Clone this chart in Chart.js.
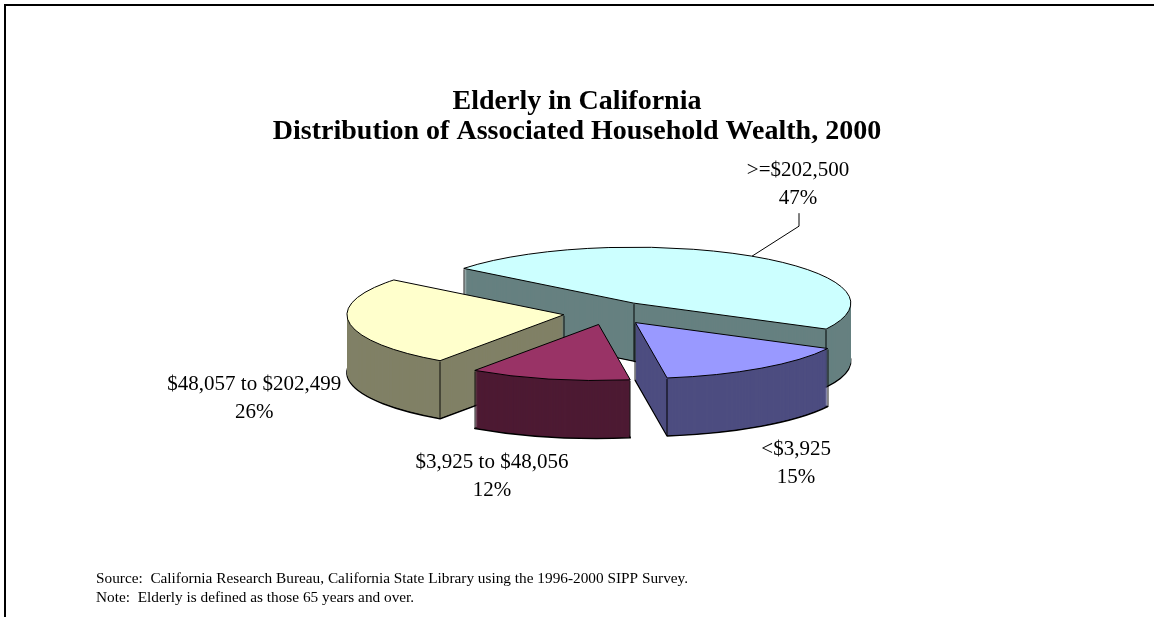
<!DOCTYPE html>
<html>
<head>
<meta charset="utf-8">
<title>Elderly in California - Household Wealth</title>
<script src="https://cdn.jsdelivr.net/npm/chart.js@4.4.1/dist/chart.umd.min.js"></script>
<style>
  html, body { margin: 0; padding: 0; background: #fff; }
  #wealth-pie { display: block; }
</style>
</head>
<body>
<canvas id="wealth-pie" width="1154" height="617"></canvas>
<script>
var wealthLabels = ["<$3,925", "$3,925 to $48,056", "$48,057 to $202,499", ">=$202,500"];
var wealthShares = [15, 12, 26, 47];

var topColors = ["#9999FF", "#993366", "#FFFFCC", "#CCFFFF"];
var sideColors = ["#4D4D80", "#4D1A33", "#808066", "#668080"];
// label spot, measured from the rim point in the middle of each slice
var labelShift = [[35, 80], [-57, 82], [-95, 60], [46, -87]];
var leaderLine = [false, false, false, true];

var tilt = 0.258;    // vertical squash of the pie top
var depth = 58;      // wall height in px
var explode = 0.21;  // pull-out of each slice, part of the radius
var serif = "'Liberation Serif', 'Times New Roman', serif";

function sliceGeometry(el) {
  var p = el.getProps(['x', 'y', 'startAngle', 'endAngle', 'outerRadius'], true);
  var mid = (p.startAngle + p.endAngle) / 2;
  var push = p.outerRadius * explode;
  return {
    x: p.x + Math.cos(mid) * push,
    y: p.y + Math.sin(mid) * push * tilt,
    r: p.outerRadius,
    a0: p.startAngle,
    a1: p.endAngle,
    mid: mid
  };
}

function rim(s, a) {
  return [s.x + Math.cos(a) * s.r, s.y + Math.sin(a) * s.r * tilt];
}

function slicePath(ctx, s, shift) {
  ctx.beginPath();
  ctx.moveTo(s.x, s.y + shift);
  ctx.ellipse(s.x, s.y + shift, s.r, s.r * tilt, 0, s.a0, s.a1);
  ctx.closePath();
}

// stack the slice shapes from the bottom up so the front walls hide the back ones
var pie3d = {
  id: 'pie3d',
  beforeDatasetsDraw: function(chart) {
    var ctx = chart.ctx;
    var slices = chart.getDatasetMeta(0).data.map(sliceGeometry);
    ctx.save();
    ctx.lineJoin = 'round';
    for (var k = depth; k >= 0; k--) {
      slices.forEach(function(s, i) {
        slicePath(ctx, s, k);
        ctx.fillStyle = k === 0 ? topColors[i] : sideColors[i];
        ctx.fill();
        if (k === 0 || k === depth) {
          ctx.lineWidth = k === 0 ? 1 : 1.5;
          ctx.strokeStyle = '#000';
          ctx.stroke();
        } else {
          // vertical edges at the corners
          ctx.fillStyle = '#000';
          [[s.x, s.y], rim(s, s.a0), rim(s, s.a1)].forEach(function(v) {
            ctx.fillRect(Math.round(v[0]) - 0.5, v[1] + k, 1, 1);
          });
        }
      });
    }
    ctx.restore();
    return false;
  },
  afterDraw: function(chart) {
    var ctx = chart.ctx;
    var slices = chart.getDatasetMeta(0).data.map(sliceGeometry);
    var total = wealthShares.reduce(function(a, b) { return a + b; }, 0);

    ctx.save();
    // frame
    ctx.fillStyle = '#000';
    ctx.fillRect(4, 4, 1150, 2);
    ctx.fillRect(4, 4, 2, 613);

    // title
    ctx.textAlign = 'center';
    ctx.textBaseline = 'alphabetic';
    ctx.font = 'bold 28px ' + serif;
    ctx.fillText('Elderly in California', 577, 109);
    ctx.fillText('Distribution of Associated Household Wealth, 2000', 577, 139);

    // slice labels
    ctx.font = '21px ' + serif;
    ctx.strokeStyle = '#000';
    ctx.lineWidth = 1;
    slices.forEach(function(s, i) {
      var pt = rim(s, s.mid);
      var lx = pt[0] + labelShift[i][0];
      var ly = pt[1] + labelShift[i][1];
      var pct = Math.round(wealthShares[i] / total * 100) + '%';
      ctx.fillText(wealthLabels[i], lx, ly + 7);
      ctx.fillText(pct, lx, ly + 35);
      if (leaderLine[i]) {
        ctx.beginPath();
        ctx.moveTo(lx + 1, ly + 44);
        ctx.lineTo(lx + 1, ly + 57);
        ctx.lineTo(pt[0], pt[1]);
        ctx.stroke();
      }
    });

    // notes
    ctx.textAlign = 'left';
    ctx.font = '15.3px ' + serif;
    ctx.fillText('Source:  California Research Bureau, California State Library using the 1996-2000 SIPP Survey.', 96, 583);
    ctx.fillText('Note:  Elderly is defined as those 65 years and over.', 96, 602);
    ctx.restore();
  }
};

new Chart(document.getElementById('wealth-pie'), {
  type: 'pie',
  data: {
    labels: wealthLabels,
    datasets: [{
      data: wealthShares,
      backgroundColor: topColors,
      borderWidth: 0
    }]
  },
  options: {
    responsive: false,
    animation: false,
    devicePixelRatio: 1,
    rotation: 117.6,
    radius: 217,
    layout: { padding: { left: 392, right: 328, top: 96, bottom: 87 } },
    plugins: {
      legend: { display: false },
      title: { display: false },
      tooltip: { enabled: false }
    }
  },
  plugins: [pie3d]
});
</script>
</body>
</html>
